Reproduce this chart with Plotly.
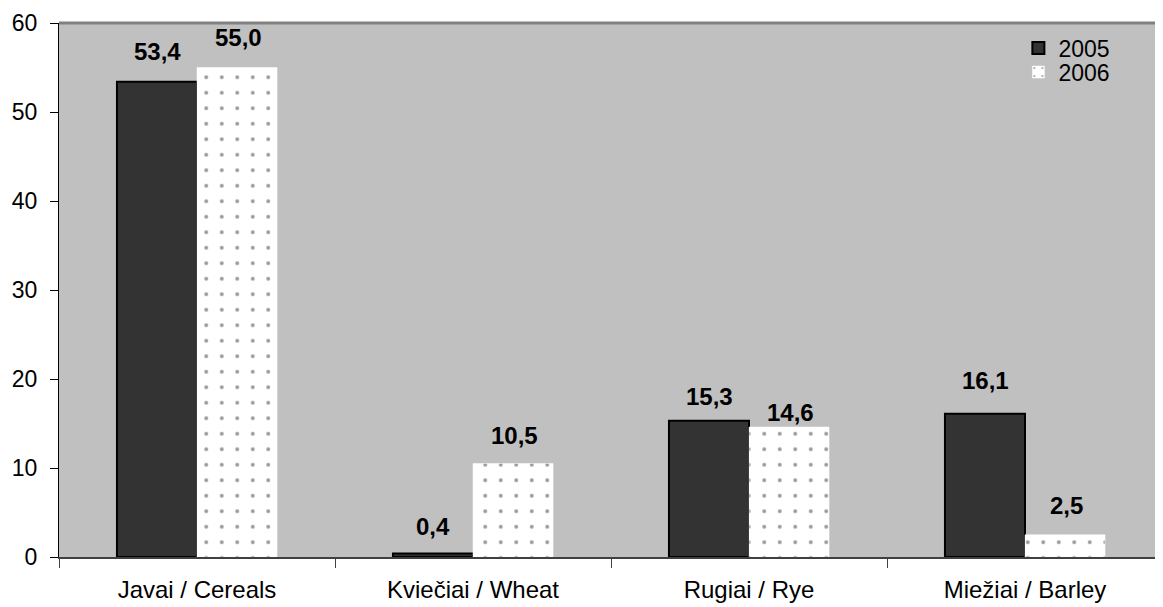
import plotly.graph_objects as go

categories = ["Javai / Cereals", "Kviečiai / Wheat", "Rugiai / Rye", "Miežiai / Barley"]
values_2005 = [53.4, 0.4, 15.3, 16.1]
values_2006 = [55.0, 10.5, 14.6, 2.5]
series_names = ["2005", "2006"]
y_ticks = [0, 10, 20, 30, 40, 50, 60]

# label vertical offsets (px above bar top), style only
shift_2005 = [30, 27, 24, 33]
shift_2006 = [30, 28, 15, 29]

FONT = "Liberation Sans, Arial, sans-serif"

def fmt(v):
    return f"{v:.1f}".replace(".", ",")

fig = go.Figure()
fig.add_trace(go.Bar(
    x=categories, y=values_2005, name=series_names[0], legend="legend",
    marker=dict(color="#333333", line=dict(color="#000000", width=2)),
))
fig.add_trace(go.Bar(
    x=categories, y=values_2006, name=series_names[1], legend="legend2",
    marker=dict(color="#ffffff", line=dict(color="#ffffff", width=0.5),
                pattern=dict(shape=".", bgcolor="#ffffff", fgcolor="#333333",
                             size=15.5, solidity=0.05, fillmode="overlay")),
))

for vals, shifts, xs in ((values_2005, shift_2005, -40), (values_2006, shift_2006, 41)):
    for c, v, s in zip(categories, vals, shifts):
        fig.add_annotation(x=c, y=v, text=f"<b>{fmt(v)}</b>", showarrow=False,
                           xshift=xs, yshift=s, yanchor="middle",
                           font=dict(family=FONT, size=24, color="#000000"))

fig.add_shape(type="line", xref="paper", yref="paper", x0=0, x1=1, y0=1, y1=1,
              line=dict(color="#808080", width=3))

leg = dict(xanchor="left", yanchor="middle", bgcolor="rgba(0,0,0,0)",
           font=dict(size=23), itemwidth=30)

fig.update_layout(
    width=1155, height=599,
    margin=dict(l=51, r=0, t=15, b=50),
    paper_bgcolor="#ffffff", plot_bgcolor="#c0c0c0",
    barmode="group", bargap=0.42, bargroupgap=0,
    font=dict(family=FONT, size=22, color="#000000"),
    showlegend=True,
    legend=dict(x=0.869, y=0.953, **leg),
    legend2=dict(x=0.869, y=0.908, **leg),
    xaxis=dict(showgrid=False, showline=True, linecolor="#404040", linewidth=2,
               ticks="outside", tickson="boundaries", ticklen=9, tickcolor="#404040",
               tickfont=dict(size=24), ticklabelstandoff=10, range=[-0.5, 3.5]),
    yaxis=dict(range=[0, 60], tickvals=y_ticks, showgrid=False, zeroline=False,
               showline=True, linecolor="#000000", linewidth=1,
               ticks="outside", ticklen=8, tickcolor="#000000",
               tickfont=dict(size=23), ticklabelstandoff=8),
)

fig.write_html("out.html")
